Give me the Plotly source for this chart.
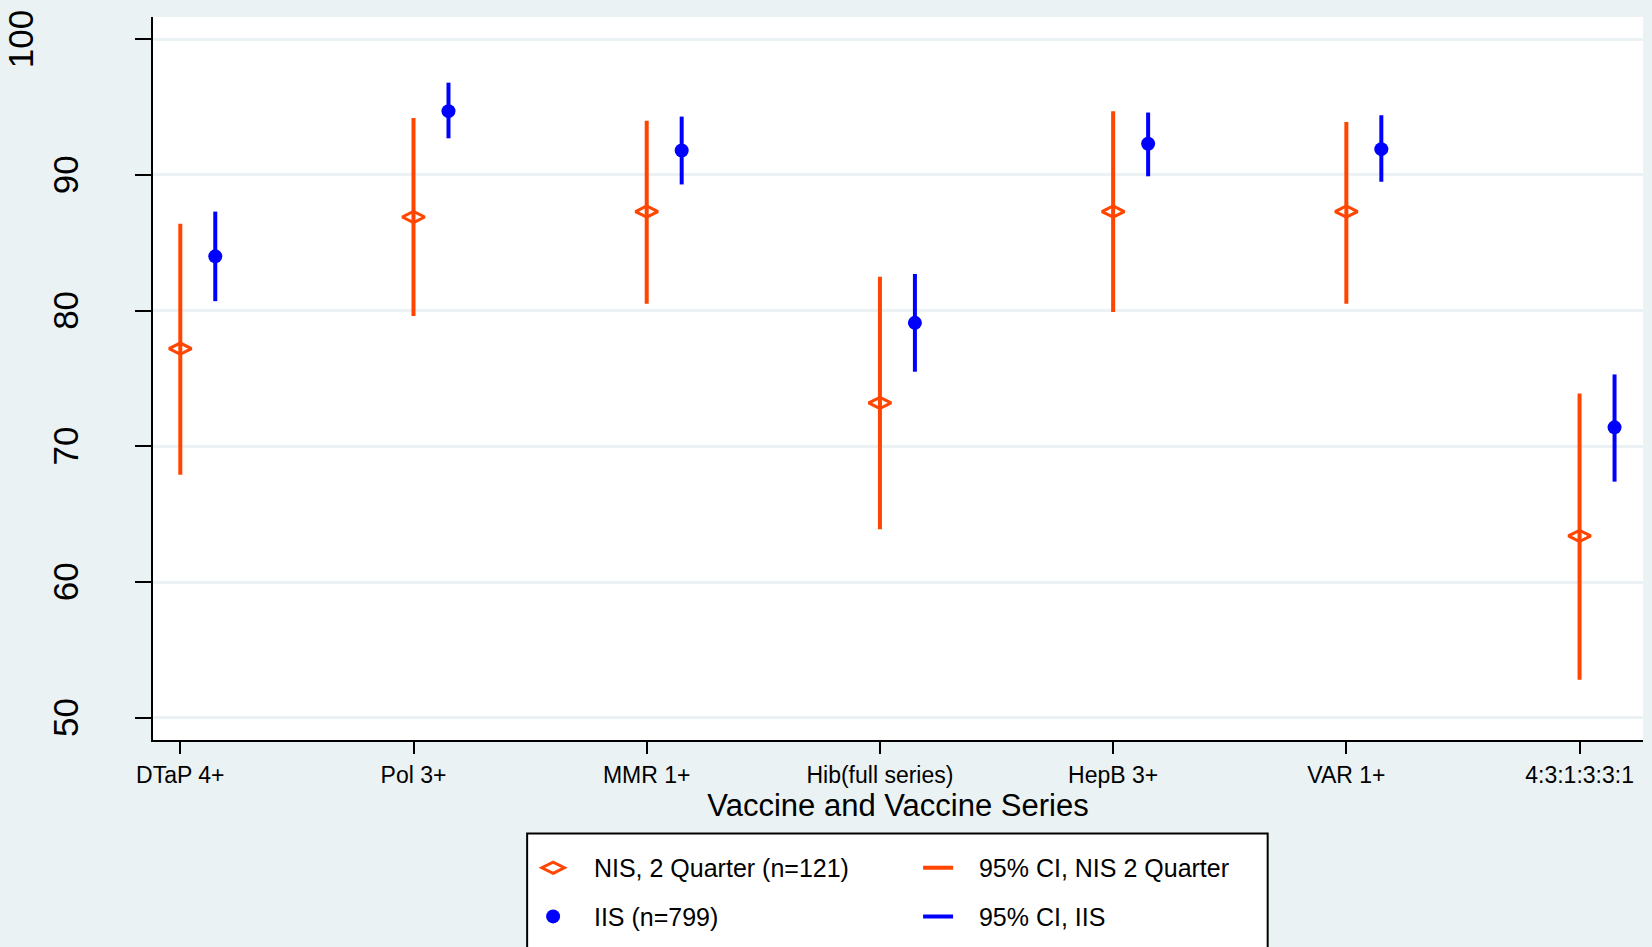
import plotly.graph_objects as go

# ---- data ----
categories = ["DTaP 4+", "Pol 3+", "MMR 1+", "Hib(full series)", "HepB 3+", "VAR 1+", "4:3:1:3:3:1"]
nis_est = [77.2, 86.9, 87.3, 73.2, 87.3, 87.3, 63.4]
nis_lo = [67.9, 79.6, 80.5, 63.9, 79.9, 80.5, 52.8]
nis_hi = [86.4, 94.2, 94.0, 82.5, 94.7, 93.9, 73.9]
iis_est = [84.0, 94.7, 91.8, 79.1, 92.3, 91.9, 71.4]
iis_lo = [80.7, 92.7, 89.3, 75.5, 89.9, 89.5, 67.4]
iis_hi = [87.3, 96.8, 94.3, 82.7, 94.6, 94.4, 75.3]
y_ticks = [50, 60, 70, 80, 90, 100]
y_ticktext = ["50", "60", "70", "80", "90", "100<br>\u00a0"]

names = ["NIS, 2 Quarter (n=121)", "95% CI, NIS 2 Quarter", "IIS (n=799)", "95% CI, IIS"]

ORANGE = "#FF4500"
BLUE = "#0000FF"
BG = "#EAF2F3"
FONT = "Liberation Sans, Arial, Helvetica, sans-serif"
PAD = "\u00a0\u00a0\u00a0"

pos_nis = [i + 1 for i in range(len(categories))]
offset = 0.15
pos_iis = [p + offset for p in pos_nis]


def ci_path(xs, lo, hi):
    px, py = [], []
    for x, a, b in zip(xs, lo, hi):
        px += [x, x, None]
        py += [a, b, None]
    return px, py


fig = go.Figure()

cx, cy = ci_path(pos_nis, nis_lo, nis_hi)
fig.add_trace(go.Scatter(x=cx, y=cy, mode="lines", name=PAD + names[1],
                         line=dict(color=ORANGE, width=4), legend="legend", legendrank=2,
                         hoverinfo="skip"))
cx, cy = ci_path(pos_iis, iis_lo, iis_hi)
fig.add_trace(go.Scatter(x=cx, y=cy, mode="lines", name=PAD + names[3],
                         line=dict(color=BLUE, width=4), legend="legend2", legendrank=2,
                         hoverinfo="skip"))
fig.add_trace(go.Scatter(x=pos_nis, y=nis_est, mode="markers", name=PAD + names[0],
                         marker=dict(symbol="diamond-wide-open", size=16, color=ORANGE,
                                     line=dict(color=ORANGE, width=3)),
                         legend="legend", legendrank=1, legendwidth=340))
fig.add_trace(go.Scatter(x=pos_iis, y=iis_est, mode="markers", name=PAD + names[2],
                         marker=dict(symbol="circle", size=14, color=BLUE),
                         legend="legend2", legendrank=1, legendwidth=340))

legend_common = dict(orientation="h", xanchor="left", yanchor="middle",
                     bgcolor="rgba(0,0,0,0)", borderwidth=0,
                     font=dict(family=FONT, size=25, color="black"))

fig.update_layout(
    width=1652, height=947,
    paper_bgcolor=BG, plot_bgcolor="white",
    margin=dict(l=153, r=9, t=17, b=207, autoexpand=False),
    font=dict(family=FONT, color="black"),
    showlegend=True,
    legend=dict(x=0.2551, y=-0.1770, **legend_common),
    legend2=dict(x=0.2551, y=-0.2443, **legend_common),
    xaxis=dict(
        range=[0.883, 7.272], tickmode="array", tickvals=pos_nis, ticktext=categories,
        ticks="outside", ticklen=12, tickwidth=1.5, tickcolor="black",
        showline=True, linecolor="black", linewidth=2, showgrid=False, zeroline=False,
        tickfont=dict(family=FONT, size=23, color="black"), ticklabelstandoff=1,
        title=dict(text="Vaccine and Vaccine Series", font=dict(family=FONT, size=31, color="black"),
                   standoff=0),
        automargin=False, fixedrange=True,
    ),
    yaxis=dict(
        range=[48.36, 101.64], tickmode="array", tickvals=y_ticks, ticktext=y_ticktext,
        ticks="outside", ticklen=16, tickwidth=2, tickcolor="black",
        showline=True, linecolor="black", linewidth=2,
        showgrid=True, gridcolor=BG, gridwidth=3, zeroline=False,
        tickangle=-90, tickfont=dict(family=FONT, size=35, color="black"),
        ticklabelstandoff=43, ticklabelshift=5, automargin=False, fixedrange=True,
    ),
    shapes=[dict(type="rect", xref="paper", yref="paper", x0=0.2511, x1=0.7481,
                 y0=-0.1292, y1=-0.34, line=dict(color="black", width=2),
                 fillcolor="white", layer="above")],
)

fig.write_html("out.html", config={"displayModeBar": False},
               post_script="document.body.style.margin='0';document.body.style.overflow='hidden';")
